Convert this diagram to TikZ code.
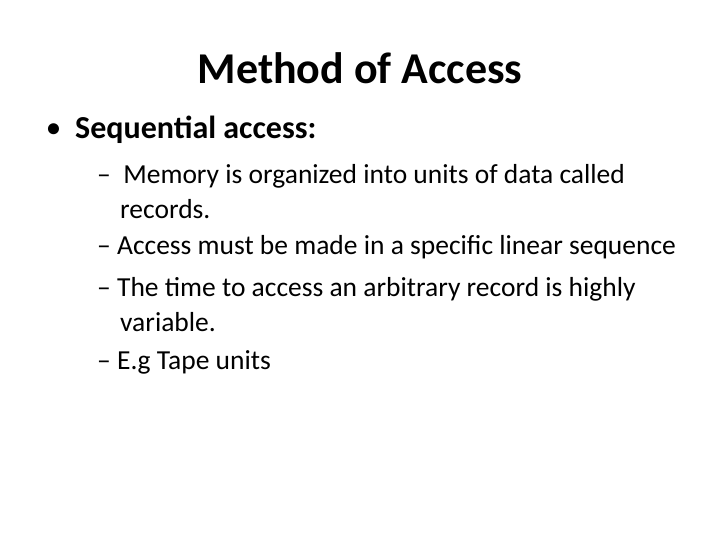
\documentclass[tikz,border=0pt]{standalone}
\usepackage{fontspec}
\setmainfont{Carlito}
\begin{document}
\begin{tikzpicture}[x=1pt,y=-1pt,
  ttl/.style={font=\bfseries\fontsize{44}{50}\selectfont,inner sep=0pt},
  lvl/.style={anchor=west,font=\bfseries\fontsize{32}{38}\selectfont,inner sep=0pt},
  sub/.style={anchor=west,font=\fontsize{27.5}{32}\selectfont,inner sep=0pt}]
\useasboundingbox (0,0) rectangle (720,540);
\node[ttl] (t) at (360,68) {Method of Access};
\node[lvl] (b) at (47,130) {\fontsize{26}{30}\selectfont •};
\node[lvl] (s) at (75,130) {Sequential access:};
\node[sub] (a1) at (97,176) {–\ \ Memory is organized into units of data called};
\node[sub] (a1b) at (120,209) {records.};
\node[sub] (a2) at (97,247) {– Access must be made in a specific linear sequence};
\node[sub] (a3) at (97,289) {– The time to access an arbitrary record is highly};
\node[sub] (a3b) at (120,322) {variable.};
\node[sub] (a4) at (97,362) {– E.g Tape units};
\end{tikzpicture}
\end{document}
